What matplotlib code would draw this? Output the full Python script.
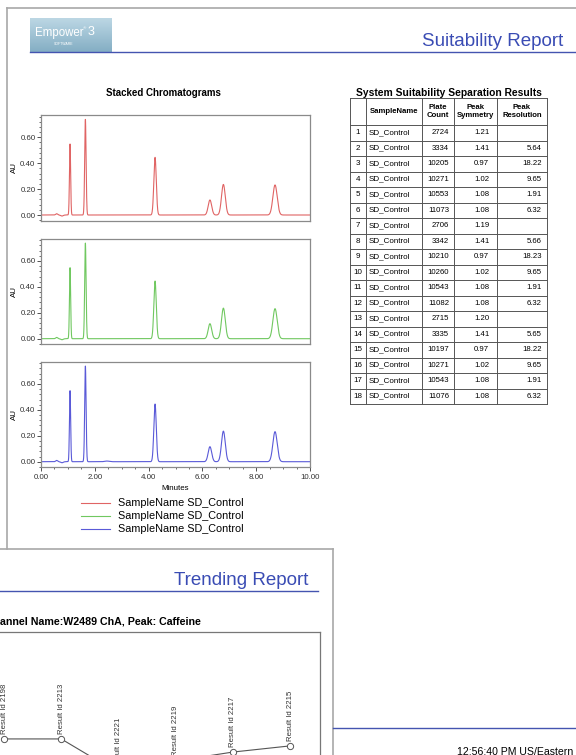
import numpy as np
import matplotlib
matplotlib.use("Agg")
import matplotlib.pyplot as plt
from matplotlib.ticker import MultipleLocator, FormatStrFormatter

plt.rcParams["font.family"] = ["Liberation Sans", "DejaVu Sans"]

W, H = 576, 755

# chromatogram peaks (same method, three injections)
PEAK_RT = [0.58, 0.78, 1.08, 1.65, 4.24, 6.28, 6.78, 8.70]
PEAK_AU = [0.010, -0.008, 0.548, 0.738, 0.445, 0.116, 0.236, 0.232]
PEAK_SD = [0.035, 0.045, 0.022, 0.026, 0.045, 0.065, 0.070, 0.080]
BLUE_EXTRA_RT = [2.45]
BLUE_EXTRA_AU = [0.005]
BLUE_EXTRA_SD = [0.08]
TRACE_COLORS = ["#e06464", "#70c860", "#5a5ad8"]
LEGEND_LABELS = ["SampleName SD_Control"] * 3

# suitability table
ROW_NO = list(range(1, 19))
SAMPLE_NAMES = ["SD_Control"] * 18
PLATE_COUNT = [2724, 3334, 10205, 10271, 10553, 11073, 2706, 3342, 10210,
               10260, 10543, 11082, 2715, 3335, 10197, 10271, 10543, 11076]
PEAK_SYMMETRY = [1.21, 1.41, 0.97, 1.02, 1.08, 1.08, 1.19, 1.41, 0.97,
                 1.02, 1.08, 1.08, 1.20, 1.41, 0.97, 1.02, 1.08, 1.08]
PEAK_RESOLUTION = [None, 5.64, 18.22, 9.65, 1.91, 6.32, None, 5.66, 18.23,
                   9.65, 1.91, 6.32, None, 5.65, 18.22, 9.65, 1.91, 6.32]
TABLE_HEADER = ["", "SampleName", "Plate\nCount", "Peak\nSymmetry", "Peak\nResolution"]

# trending (caffeine)
RESULT_IDS = [2198, 2213, 2221, 2219, 2217, 2215]
TREND_VALUES = [0.601, 0.601, 0.474, 0.519, 0.552, 0.575]


def box(x0, y0, x1, y1):
    return [x0 / W, 1 - y1 / H, (x1 - x0) / W, (y1 - y0) / H]


def trace(t, rts, aus, sds):
    y = np.zeros_like(t)
    for rt, au, sd in zip(rts, aus, sds):
        y += au * np.exp(-0.5 * ((t - rt) / sd) ** 2)
    return y


fig = plt.figure(figsize=(W / 100, H / 100), dpi=100)

# page overlay in pixel coordinates
ax0 = fig.add_axes([0, 0, 1, 1])
ax0.set_axis_off()

grad = np.linspace(0, 1, 50)[:, None] * np.ones((1, 50))
logo_cmap = matplotlib.colors.LinearSegmentedColormap.from_list("logo", ["#bcd7e4", "#84aec4"])
ax0.imshow(grad, cmap=logo_cmap, extent=(30, 112, 52, 18), aspect="auto", zorder=1)
ax0.text(35, 33, "Empower", color="white", fontsize=8.3, va="center", zorder=2)
ax0.text(82.5, 28.5, "®", color="white", fontsize=3.2, va="center", zorder=2)
ax0.text(87.5, 32, "3", color="white", fontsize=9, va="center", zorder=2)
ax0.text(64, 44, "SOFTWARE", color="white", fontsize=2.5, va="center", ha="center", zorder=2)

gray = "#a8a8a8"
blue = "#4454b0"
ax0.plot([6.7, 6.7], [8.3, 549], color=gray, lw=1.2)
ax0.plot([6.7, 576], [8.3, 8.3], color=gray, lw=1.2)
ax0.plot([0, 333], [549, 549], color=gray, lw=1.2)
ax0.plot([333, 333], [549, 755], color=gray, lw=1.2)

ax0.plot([30, 576], [52, 52], color=blue, lw=1.0)
ax0.text(563, 49.5, "Suitability Report", color="#3a4cb4", fontsize=13.5, ha="right", va="bottom")

ax0.plot([0, 318], [591, 591], color=blue, lw=1.0)
ax0.text(308, 589, "Trending Report", color="#3a4cb4", fontsize=13.5, ha="right", va="bottom")
ax0.text(0, 621, "annel Name:W2489 ChA, Peak: Caffeine", fontsize=7.7,
         fontweight="bold", ha="left", va="center")

ax0.plot([333, 576], [728, 728], color=blue, lw=1.0)
ax0.text(457, 752, "12:56:40 PM US/Eastern", fontsize=7.6, ha="left", va="center")

# stacked chromatograms
ax0.text(163, 93, "Stacked Chromatograms", fontsize=7, fontweight="bold", ha="center", va="center")
t = np.linspace(0, 10, 5001)
boxes = [(41, 115, 310, 220.7), (41, 238.7, 310, 344.4), (41, 361.7, 310, 467.4)]
for i, b in enumerate(boxes):
    ax = fig.add_axes(box(*b))
    y = trace(t, PEAK_RT, PEAK_AU, PEAK_SD)
    if i == 2:
        y = y + trace(t, BLUE_EXTRA_RT, BLUE_EXTRA_AU, BLUE_EXTRA_SD)
    ax.plot(t, y, color=TRACE_COLORS[i], lw=0.8)
    ax.set_xlim(0, 10)
    ax.set_ylim(-0.044, 0.772)
    for s in ax.spines.values():
        s.set_color("#8a8a8a")
        s.set_linewidth(0.9)
    ax.yaxis.set_major_locator(MultipleLocator(0.2))
    ax.yaxis.set_minor_locator(MultipleLocator(0.04))
    ax.yaxis.set_major_formatter(FormatStrFormatter("%.2f"))
    ax.tick_params(axis="y", which="major", length=3, width=0.6, labelsize=5.7,
                   colors="#333333", pad=1)
    ax.tick_params(axis="y", which="minor", length=1.5, width=0.5, colors="#333333")
    if i == 2:
        ax.xaxis.set_major_locator(MultipleLocator(2))
        ax.xaxis.set_minor_locator(MultipleLocator(0.5))
        ax.xaxis.set_major_formatter(FormatStrFormatter("%.2f"))
        ax.tick_params(axis="x", which="major", length=3, width=0.6, labelsize=5.7,
                       colors="#333333", pad=2)
        ax.tick_params(axis="x", which="minor", length=1.5, width=0.5, colors="#333333")
    else:
        ax.set_xticks([])
    ax0.text(14, (b[1] + b[3]) / 2, "AU", fontsize=5.7, rotation=90, ha="center", va="center")

ax0.text(175.5, 488, "Minutes", fontsize=5.7, ha="center", va="center")
for k, (c, lab) in enumerate(zip(TRACE_COLORS, LEGEND_LABELS)):
    yy = 503 + k * 13
    ax0.plot([81, 110], [yy, yy], color=c, lw=0.8)
    ax0.text(118, yy, lab, fontsize=7.8, ha="left", va="center")

# suitability table
ax0.text(448.5, 92.5, "System Suitability Separation Results", fontsize=7.4,
         fontweight="bold", ha="center", va="center")
col_x = [350, 365.7, 421.7, 454, 497.3, 546.7]
head_top, head_bot, row_h = 98, 125, 15.5
n = len(ROW_NO)
tab_bot = head_bot + n * row_h
lc = "#555555"
for x in col_x:
    ax0.plot([x, x], [head_top, tab_bot], color=lc, lw=0.7)
ax0.plot([col_x[0], col_x[-1]], [head_top, head_top], color=lc, lw=0.7)
ax0.plot([col_x[0], col_x[-1]], [head_bot, head_bot], color=lc, lw=0.7)
for r in range(n):
    yb = head_bot + (r + 1) * row_h
    ax0.plot([col_x[0], col_x[-1]], [yb, yb], color=lc, lw=0.7)
for j, h in enumerate(TABLE_HEADER):
    ax0.text((col_x[j] + col_x[j + 1]) / 2, (head_top + head_bot) / 2, h, fontsize=5.6,
             fontweight="bold", ha="center", va="center", linespacing=1.1)
for r in range(n):
    yc = head_bot + (r + 0.5) * row_h
    ax0.text((col_x[0] + col_x[1]) / 2, yc, str(ROW_NO[r]), fontsize=5.8, ha="center", va="center")
    ax0.text(col_x[1] + 3, yc, SAMPLE_NAMES[r], fontsize=5.8, ha="left", va="center")
    ax0.text(col_x[3] - 5, yc, str(PLATE_COUNT[r]), fontsize=5.6, ha="right", va="center")
    ax0.text(col_x[4] - 8, yc, "%.2f" % PEAK_SYMMETRY[r], fontsize=5.6, ha="right", va="center")
    if PEAK_RESOLUTION[r] is not None:
        ax0.text(col_x[5] - 5, yc, "%.2f" % PEAK_RESOLUTION[r], fontsize=5.6, ha="right", va="center")

ax0.set_xlim(0, W)
ax0.set_ylim(H, 0)

# trending chart (cut off by the page edge)
axt = fig.add_axes(box(-20, 632, 320, 900))
xs = np.arange(len(RESULT_IDS))
axt.plot(xs, TREND_VALUES, color="#555555", lw=0.8, marker="o", ms=4.5,
         mfc="white", mec="#555555", mew=0.7)
for x, v, rid in zip(xs, TREND_VALUES, RESULT_IDS):
    axt.annotate("Result Id %d" % rid, (x, v), xytext=(0, 3.5), textcoords="offset points",
                 rotation=90, ha="center", va="bottom", fontsize=5.6, color="#333333")
axt.set_xlim(-0.42, 5.524)
axt.set_ylim(0, 1)
axt.set_xticks([])
axt.set_yticks([])
for s in axt.spines.values():
    s.set_color("#777777")
    s.set_linewidth(0.9)

fig.savefig("out.png", dpi=100)
